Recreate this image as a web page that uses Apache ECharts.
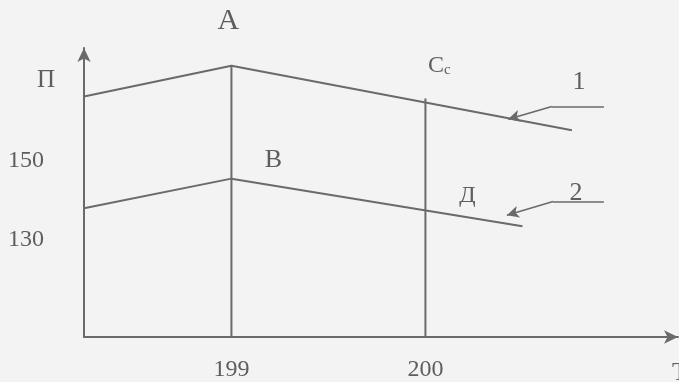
<!DOCTYPE html>
<html>
<head>
<meta charset="utf-8">
<script src="https://cdn.jsdelivr.net/npm/echarts@6/dist/echarts.min.js"></script>
<style>
html,body{margin:0;padding:0;background:#f3f3f3;}
#c{width:679px;height:382px;}
</style>
</head>
<body>
<div id="c"></div>
<script>
// Axis ranges (data units)
const X_MIN = 198.24, X_MAX = 201.302;
const Y_MIN = 105.5, Y_MAX = 178.5;
// Tick labels
const X_TICKS = [199, 200];
const Y_TICKS = [130, 150];
// Curves [T, П]
const LINE1 = [[198.24, 166.25], [199, 174], [200.755, 157.75]];
const LINE2 = [[198.24, 138], [199, 145.5], [200.5, 133.5]];
// Vertical guides
const V199 = [[199, 105.5], [199, 174]];
const V200 = [[200, 105.5], [200, 165.75]];
// Pointer leaders: [end, elbow, tip]
const PTR1 = [[200.92, 163.75], [200.652, 163.75], [200.426, 160.5]];
const PTR2 = [[200.92, 139.75], [200.658, 139.75], [200.42, 136.25]];
// Point labels
const LABEL_A = 'A', LABEL_B = 'B', LABEL_C = 'C', LABEL_C_SUB = 'c', LABEL_D = 'Д', LABEL_1 = '1', LABEL_2 = '2';
const Y_NAME = 'П', X_NAME = 'T';

const INK = '#6a6a6a';
const TXT = '#5e5e5e';
const FONT = '"Liberation Serif", "DejaVu Serif", serif';

function txt(size) { return { color: TXT, fontSize: size, fontFamily: FONT }; }
function mp(coord, text, offset, size, extra) {
  return Object.assign({
    coord: coord, symbol: 'circle', symbolSize: 0,
    itemStyle: { color: 'rgba(0,0,0,0)' },
    label: Object.assign({ show: true, formatter: text, offset: offset, position: 'inside' }, txt(size))
  }, extra || {});
}
function seg(a, b, arrow) {
  return [{ coord: a, symbol: 'none' }, { coord: b, symbol: arrow ? 'arrow' : 'none' }];
}

const chart = echarts.init(document.getElementById('c'), null, { renderer: 'canvas' });
const baseLine = { type: 'line', symbol: 'none', silent: true, lineStyle: { color: INK, width: 2 }, z: 3 };

chart.setOption({
  backgroundColor: '#f3f3f3',
  animation: false,
  grid: { left: 84, right: 1, top: 48, bottom: 41, containLabel: false },
  xAxis: {
    type: 'value', min: X_MIN, max: X_MAX,
    axisLine: { show: true, onZero: false, symbol: ['none', 'arrow'], symbolSize: [10, 14], lineStyle: { color: INK, width: 2 } },
    axisTick: { show: false },
    splitLine: { show: false },
    axisLabel: Object.assign({ customValues: X_TICKS, margin: 21 }, txt(24))
  },
  yAxis: {
    type: 'value', min: Y_MIN, max: Y_MAX,
    axisLine: { show: true, onZero: false, symbol: ['none', 'arrow'], symbolSize: [10, 14], lineStyle: { color: INK, width: 2 } },
    axisTick: { show: false },
    splitLine: { show: false },
    axisLabel: Object.assign({ customValues: Y_TICKS, margin: 40, padding: [4, 0, 0, 0] }, txt(24))
  },
  graphic: [
    { type: 'text', left: 37, top: 68, style: { text: Y_NAME, fill: TXT, font: '25px ' + FONT } },
    { type: 'text', left: 672, top: 360, style: { text: X_NAME, fill: TXT, font: '26px ' + FONT } }
  ],
  series: [
    Object.assign({}, baseLine, {
      data: LINE1,
      markPoint: {
        silent: true,
        data: [
          mp(LINE1[1], LABEL_A, [-3, -45], 30),
          mp(V200[1], '', [14, -33], 24, {
            label: {
              show: true, position: 'inside', offset: [14, -33],
              formatter: '{c|' + LABEL_C + '}{s|' + LABEL_C_SUB + '}',
              rich: {
                c: { color: TXT, fontSize: 24, fontFamily: FONT },
                s: { color: TXT, fontSize: 15, fontFamily: FONT, verticalAlign: 'bottom', padding: [8, 0, 0, 0] }
              }
            }
          }),
          mp(PTR1[1], LABEL_1, [27, -24], 26)
        ]
      }
    }),
    Object.assign({}, baseLine, {
      data: LINE2,
      markPoint: {
        silent: true,
        data: [
          mp(LINE2[1], LABEL_B, [42, -18], 26),
          mp([200, 137.75], LABEL_D, [42, -14], 24),
          mp(PTR2[1], LABEL_2, [23, -8], 26)
        ]
      }
    }),
    Object.assign({}, baseLine, { data: V199 }),
    Object.assign({}, baseLine, { data: V200 }),
    {
      type: 'line', data: [], silent: true,
      markLine: {
        silent: true, animation: false, symbolSize: [9, 12],
        lineStyle: { color: INK, width: 1.6, type: 'solid' },
        label: { show: false },
        data: [
          seg(PTR1[0], PTR1[1], false),
          seg(PTR1[1], PTR1[2], true),
          seg(PTR2[0], PTR2[1], false),
          seg(PTR2[1], PTR2[2], true)
        ]
      }
    }
  ]
});
</script>
</body>
</html>
